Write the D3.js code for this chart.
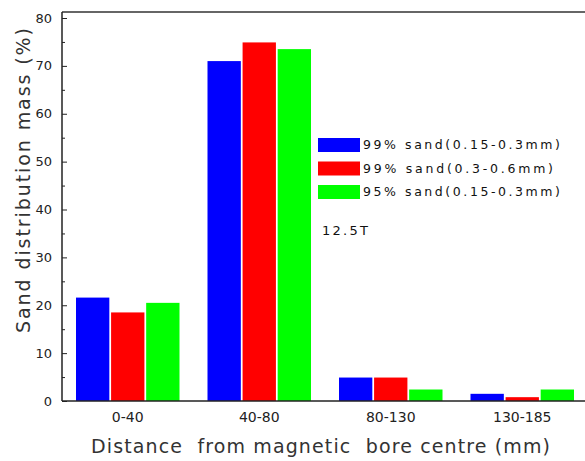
<!DOCTYPE html>
<html><head><meta charset="utf-8">
<script src="https://cdn.jsdelivr.net/npm/d3@7"></script>
<style>body{margin:0;background:#fff}svg{display:block}text{font-family:"DejaVu Sans",sans-serif}</style>
</head><body>
<svg id="c" width="585" height="461"></svg>
<script>
const categories = ["0-40", "40-80", "80-130", "130-185"];
const seriesNames = ["99% sand(0.15-0.3mm)", "99% sand(0.3-0.6mm)", "95% sand(0.15-0.3mm)"];
const sand99fine = [21.6, 71.0, 4.9, 1.5];
const sand99coarse = [18.5, 74.9, 4.9, 0.8];
const sand95fine = [20.5, 73.5, 2.4, 2.4];
const yTicks = [0, 10, 20, 30, 40, 50, 60, 70, 80];
const colors = ["#0000ff", "#ff0000", "#00ff00"];
const series = [sand99fine, sand99coarse, sand95fine];
const legendWidths = [197, 190, 197];

const svg = d3.select("#c");
const L = 62, R = 588, T = 12, B = 401;
const y = d3.scaleLinear().domain([0, 80]).range([B, 18]);
const x = d3.scaleBand().domain(categories).range([L, R]).padding(0);
const inner = d3.scaleBand().domain(d3.range(3)).range([14, x.bandwidth() - 14]).paddingInner(0.05);

// bars
series.forEach((s, si) => {
  svg.append("g").selectAll("rect").data(s).join("rect")
    .attr("x", (d, i) => x(categories[i]) + inner(si))
    .attr("width", inner.bandwidth())
    .attr("y", d => y(d))
    .attr("height", d => B - y(d))
    .attr("fill", colors[si]);
});

// frame lines
svg.append("line").attr("x1", L).attr("x2", 585).attr("y1", T).attr("y2", T).attr("stroke", "#333").attr("stroke-width", 1.5);

// y axis
const yAxis = d3.axisRight(y).tickValues(yTicks).tickSize(5).tickFormat("");
const gy = svg.append("g").attr("transform", `translate(${L},0)`).call(yAxis);
gy.select(".domain").remove();
gy.selectAll("line").attr("stroke", "#222");
const yMinor = d3.axisRight(y).tickValues(d3.range(5, 80, 10)).tickSize(3).tickFormat("");
const gym = svg.append("g").attr("transform", `translate(${L},0)`).call(yMinor);
gym.select(".domain").remove();
gym.selectAll("line").attr("stroke", "#222");
svg.append("line").attr("x1", L).attr("x2", L).attr("y1", T).attr("y2", B).attr("stroke", "#222").attr("stroke-width", 1.5);
svg.append("g").selectAll("text").data(yTicks).join("text")
  .attr("x", 52).attr("y", d => y(d)).attr("dy", "0.35em")
  .attr("text-anchor", "end").attr("font-size", 13).attr("fill", "#222").text(d => d);

// x axis
svg.append("line").attr("x1", L).attr("x2", 585).attr("y1", B).attr("y2", B).attr("stroke", "#222").attr("stroke-width", 1.5);
svg.append("g").selectAll("text").data(categories).join("text")
  .attr("x", d => x(d) + x.bandwidth() / 2).attr("y", 422)
  .attr("text-anchor", "middle").attr("font-size", 14).attr("fill", "#222").text(d => d);

// axis titles
svg.append("text").attr("x", 91).attr("y", 453)
  .attr("font-size", 19).attr("fill", "#333").attr("xml:space", "preserve")
  .attr("textLength", 459).attr("lengthAdjust", "spacing")
  .text("Distance  from magnetic  bore centre (mm)");
svg.append("text").attr("transform", "translate(30,333) rotate(-90)")
  .attr("font-size", 19).attr("fill", "#333")
  .attr("textLength", 305).attr("lengthAdjust", "spacing")
  .text("Sand distribution mass (%)");

// legend
const lg = svg.append("g");
seriesNames.forEach((n, i) => {
  const yy = 145 + i * 23.5;
  lg.append("rect").attr("x", 318).attr("y", yy - 7).attr("width", 42).attr("height", 14).attr("fill", colors[i]);
  lg.append("text").attr("x", 363).attr("y", yy).attr("dy", "0.35em").attr("font-size", 12.5)
    .attr("textLength", legendWidths[i]).attr("lengthAdjust", "spacing")
    .attr("fill", "#111").text(n);
});
svg.append("text").attr("x", 322).attr("y", 230).attr("dy", "0.35em").attr("font-size", 13)
  .attr("textLength", 46).attr("lengthAdjust", "spacing").attr("fill", "#111").text("12.5T");
</script>
</body></html>
